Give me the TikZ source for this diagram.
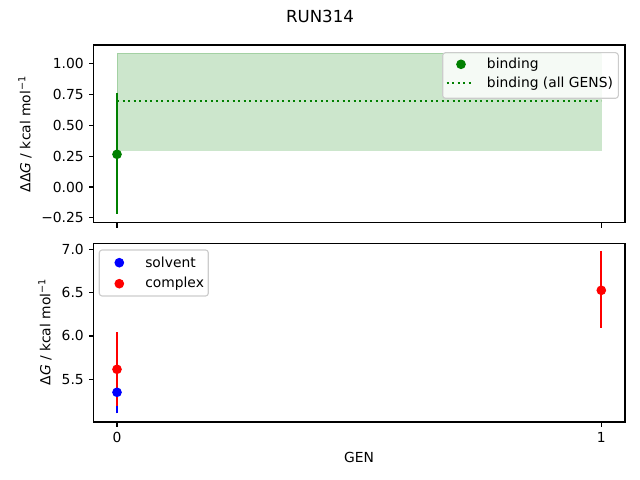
\documentclass[tikz,border=0pt]{standalone}
\usepackage{fontspec}
\setmainfont{DejaVu Sans}
\definecolor{mplgreen}{HTML}{008000}
\definecolor{mplblue}{HTML}{0000FF}
\definecolor{mplred}{HTML}{FF0000}
\begin{document}
\begin{tikzpicture}[x=0.01in, y=-0.01in, font=\fontsize{10}{12}\selectfont,
  frame/.style={line width=0.8pt},
  ticksty/.style={line width=0.8pt},
  errbar/.style={line width=1.5pt},
  dot/.style={circle, inner sep=0pt, minimum size=7pt},
  ticklab/.style={inner sep=0pt},
  legendbox/.style={draw=black!20, fill=white, fill opacity=0.8, rounded corners=2pt, line width=0.8pt},
  legtext/.style={anchor=west, inner sep=0pt}]
  \useasboundingbox (0,0) rectangle (640,480);

  % Title
  \node[font=\fontsize{12}{14}\selectfont] (title) at (320,16.5) {RUN314};

  % Top panel: band of all GENS
  \filldraw[mplgreen, fill opacity=0.2, draw opacity=0.2] (117,53.3) rectangle (601.3,150.3);
  \draw[mplgreen, line width=1.5pt, dash pattern=on 1.5pt off 2.475pt] (117,100.7) -- (601.3,100.7);

  % Top panel: binding at GEN 0
  \draw[errbar, mplgreen] (117,92.7) -- (117,214.3);
  \node[dot, fill=mplgreen] (bind0) at (117,154.3) {};

  % Top panel: axes and ticks
  \draw[frame] (93.5,45) rectangle (625,222.7);
  \foreach \v/\lab [count=\i] in {1.00/1.00, 0.75/0.75, 0.50/0.50, 0.25/0.25, 0.00/0.00, -0.25/−0.25} {
    \draw[ticksty] (93.5,{187-123.2*\v}) -- ++(-4.9,0);
    \node[ticklab, anchor=east] (ty\i) at (84,{187-123.2*\v}) {\lab};
  }
  \foreach \x in {117,601.3}
    \draw[ticksty] (\x,222.7) -- ++(0,4.9);
  \node[rotate=90] (ylabtop) at (25,134) {ΔΔ\textit{G} / kcal mol\textsuperscript{−1}};

  % Top panel: legend
  \draw[legendbox] (442.7,52.7) rectangle (618.3,98.3);
  \node[dot, fill=mplgreen] (legbind) at (461,64.3) {};
  \node[legtext] (legbindtxt) at (486.7,64.3) {binding};
  \coordinate (legdotA) at (446.7,83.3);
  \coordinate (legdotB) at (473.3,83.3);
  \draw[mplgreen, line width=1.5pt, dash pattern=on 1.5pt off 2.475pt] (legdotA) -- (legdotB);
  \node[legtext] (legalltxt) at (486.7,83.3) {binding (all GENS)};

  % Bottom panel: error bars
  \draw[errbar, mplblue] (117,413.3) -- (117,371.5);
  \draw[errbar, mplred] (117,332.3) -- (117,405.7);
  \draw[errbar, mplred] (601.3,251) -- (601.3,327.7);
  \node[dot, fill=mplblue] (solv0) at (117,392.3) {};
  \node[dot, fill=mplred] (comp0) at (117,369.3) {};
  \node[dot, fill=mplred] (comp1) at (601.3,290.3) {};

  % Bottom panel: axes and ticks
  \draw[frame] (93.5,243.3) rectangle (625,422);
  \foreach \v/\lab [count=\i] in {5.5/5.5, 6.0/6.0, 6.5/6.5, 7.0/7.0} {
    \draw[ticksty] (93.5,{379.3-86.7*(\v-5.5)}) -- ++(-4.9,0);
    \node[ticklab, anchor=east] (by\i) at (84,{379.3-86.7*(\v-5.5)}) {\lab};
  }
  \foreach \x/\lab [count=\i] in {117/0, 601.3/1} {
    \draw[ticksty] (\x,422) -- ++(0,4.9);
    \node[ticklab] (bx\i) at (\x,437) {\lab};
  }
  \node (genlab) at (359,457) {GEN};
  \node[rotate=90] (ylabbot) at (45,332) {Δ\textit{G} / kcal mol\textsuperscript{−1}};

  % Bottom panel: legend
  \draw[legendbox] (99.3,250) rectangle (208.3,296);
  \node[dot, fill=mplblue] (legsolv) at (119.3,262.7) {};
  \node[legtext] (legsolvtxt) at (145,262.7) {solvent};
  \node[dot, fill=mplred] (legcomp) at (119.3,283.7) {};
  \node[legtext] (legcomptxt) at (145,283.7) {complex};

\end{tikzpicture}
\end{document}
